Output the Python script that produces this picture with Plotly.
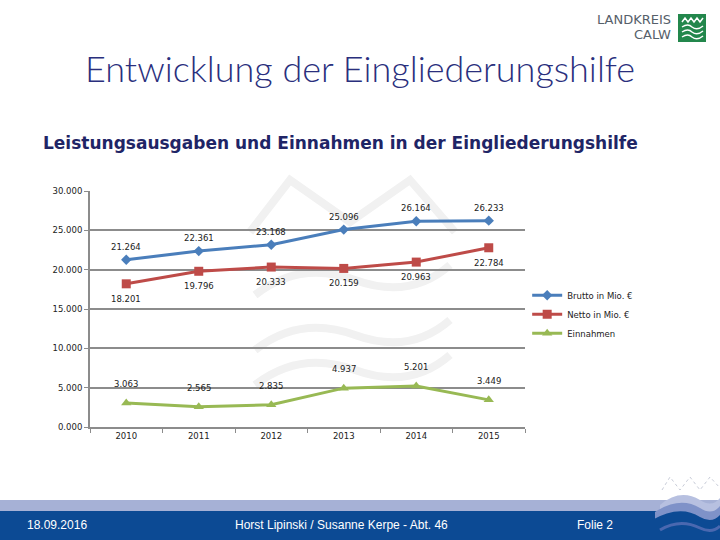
import plotly.graph_objects as go

years = ["2010", "2011", "2012", "2013", "2014", "2015"]
brutto = [21264, 22361, 23168, 25096, 26164, 26233]
netto = [18201, 19796, 20333, 20159, 20963, 22784]
einnahmen = [3063, 2565, 2835, 4937, 5201, 3449]
y_ticks = [0, 5000, 10000, 15000, 20000, 25000, 30000]

def de(v):
    return f"{v / 1000:.3f}"

W, H = 720, 540
L, R, T, B = 90, 525, 191, 427

fig = go.Figure()
series = [
    ("Brutto in Mio. €", brutto, "#4a7ebb", "diamond", 8, 13),
    ("Netto in Mio. €", netto, "#be4b48", "square", 9, -15),
    ("Einnahmen", einnahmen, "#98b954", "triangle-up", 9, 19),
]
annotations = []
for name, vals, col, sym, ms, shift in series:
    fig.add_trace(go.Scatter(
        x=years, y=vals, name=name, mode="lines+markers",
        line=dict(color=col, width=3),
        marker=dict(symbol=sym, size=ms, color=col),
    ))
    for i, v in enumerate(vals):
        annotations.append(dict(x=i, y=v, xref="x", yref="y", text=de(v),
                                showarrow=False, yshift=shift,
                                font=dict(family="DejaVu Sans", size=8.5, color="#222")))

def px(x):
    return (x - L) / (R - L)
def py(y):
    return (B - y) / (B - T)

FT = "Liberation Sans Narrow, Liberation Sans"
def txt(x, y, s, font, xa="center"):
    return dict(x=px(x), y=py(y), xref="paper", yref="paper", text=s, xanchor=xa,
                yanchor="middle", showarrow=False, font=font)

annotations += [
    txt(360, 68, "Entwicklung der Eingliederungshilfe", dict(family="Lato", size=36, color="#2a2f7d", weight=300)),
    txt(340, 143, "<b>Leistungsausgaben und Einnahmen in der Eingliederungshilfe</b>",
        dict(family="DejaVu Sans", size=17, color="#1f2566")),
    txt(25, 525, "18.09.2016", dict(family=FT, size=12, color="white"), "left"),
    txt(341, 525, "Horst Lipinski / Susanne Kerpe - Abt. 46", dict(family=FT, size=12, color="white")),
    txt(595, 525, "Folie 2", dict(family=FT, size=12, color="white")),
    txt(673, 20, "LANDKREIS", dict(family="DejaVu Sans", size=13, color="#56606a"), "right"),
    txt(673, 34, "CALW", dict(family="DejaVu Sans", size=13, color="#56606a"), "right"),
]

shapes = []
wm = "#f1f1f1"
shapes.append(dict(type="path", xref="paper", yref="paper", layer="below",
                   path=f"M {px(250)},{py(232)} L {px(290)},{py(180)} L {px(350)},{py(222)} L {px(410)},{py(180)} L {px(455)},{py(232)}",
                   line=dict(color=wm, width=8)))
for yy in (275, 330, 365):
    shapes.append(dict(type="path", xref="paper", yref="paper", layer="below",
                       path=f"M {px(255)},{py(yy+20)} Q {px(300)},{py(yy-15)} {px(355)},{py(yy+5)} Q {px(410)},{py(yy+25)} {px(450)},{py(yy-10)}",
                       line=dict(color=wm, width=8)))
shapes.append(dict(type="rect", xref="paper", yref="paper", x0=px(0), x1=px(720), y0=py(511), y1=py(500),
                   fillcolor="#a6b1d6", line=dict(width=0)))
shapes.append(dict(type="rect", xref="paper", yref="paper", x0=px(0), x1=px(720), y0=py(540), y1=py(511),
                   fillcolor="#0c4a94", line=dict(width=0)))
shapes.append(dict(type="path", xref="paper", yref="paper",
                   path=f"M {px(660)},{py(505)} Q {px(680)},{py(488)} {px(700)},{py(500)} Q {px(712)},{py(508)} {px(720)},{py(498)} L {px(720)},{py(540)} L {px(660)},{py(540)} Z",
                   fillcolor="#b7c0e0", line=dict(width=0)))
shapes.append(dict(type="path", xref="paper", yref="paper",
                   path=f"M {px(655)},{py(512)} Q {px(680)},{py(496)} {px(700)},{py(508)} Q {px(712)},{py(516)} {px(720)},{py(506)} L {px(720)},{py(540)} L {px(655)},{py(540)} Z",
                   fillcolor="#7f92c8", line=dict(width=0)))
shapes.append(dict(type="path", xref="paper", yref="paper",
                   path=f"M {px(652)},{py(520)} Q {px(680)},{py(504)} {px(700)},{py(517)} Q {px(712)},{py(524)} {px(720)},{py(515)} L {px(720)},{py(540)} L {px(652)},{py(540)} Z",
                   fillcolor="#0c4a94", line=dict(width=0)))
shapes.append(dict(type="path", xref="paper", yref="paper",
                   path=f"M {px(660)},{py(530)} Q {px(680)},{py(518)} {px(700)},{py(528)} Q {px(712)},{py(534)} {px(720)},{py(526)}",
                   line=dict(color="#4a68b0", width=3)))
shapes.append(dict(type="path", xref="paper", yref="paper",
                   path=f"M {px(662)},{py(490)} L {px(670)},{py(477)} L {px(680)},{py(490)} L {px(690)},{py(477)} L {px(700)},{py(490)} L {px(710)},{py(477)} L {px(720)},{py(488)}",
                   line=dict(color="#c8ccd8", width=1, dash="dot")))
shapes.append(dict(type="rect", xref="paper", yref="paper", x0=px(678), x1=px(706), y0=py(42), y1=py(14),
                   fillcolor="#23874c", line=dict(width=0)))
shapes.append(dict(type="path", xref="paper", yref="paper",
                   path=f"M {px(682)},{py(22)} L {px(685)},{py(18)} L {px(688)},{py(22)} L {px(691)},{py(18)} L {px(694)},{py(22)} L {px(697)},{py(18)} L {px(700)},{py(22)} L {px(703)},{py(18)}",
                   line=dict(color="white", width=1.5)))
for yy in (27, 32, 37):
    shapes.append(dict(type="path", xref="paper", yref="paper",
                       path=f"M {px(682)},{py(yy)} Q {px(688)},{py(yy-4)} {px(692)},{py(yy)} Q {px(697)},{py(yy+4)} {px(703)},{py(yy-1)}",
                       line=dict(color="white", width=1.5)))

fig.update_layout(
    width=W, height=H,
    margin=dict(l=L, r=W - R, t=T, b=H - B),
    paper_bgcolor="white", plot_bgcolor="rgba(0,0,0,0)",
    showlegend=True,
    legend=dict(x=1.005, y=0.62, xanchor="left", yanchor="top",
                font=dict(family="DejaVu Sans", size=8.5, color="#222"),
                bgcolor="rgba(0,0,0,0)", itemwidth=30, tracegroupgap=0),
    annotations=annotations,
    shapes=shapes,
    xaxis=dict(type="category", range=[-0.5, 5.5], showgrid=False, showline=True,
               linecolor="#8c8c8c", linewidth=2, ticks="outside", tickson="boundaries",
               ticklen=4, tickcolor="#8c8c8c", tickwidth=1,
               tickfont=dict(family="DejaVu Sans", size=8.5, color="#222"), fixedrange=True),
    yaxis=dict(range=[0, 30000], tickvals=y_ticks, ticktext=[de(v) for v in y_ticks],
               showgrid=True, gridcolor="#8c8c8c", gridwidth=2, zeroline=False,
               showline=True, linecolor="#8c8c8c", linewidth=2, ticks="outside", ticklen=4,
               tickcolor="#8c8c8c", tickfont=dict(family="DejaVu Sans", size=8.5, color="#222"),
               fixedrange=True),
)

fig.write_html("out.html", config={"displayModeBar": False},
               post_script="document.body.style.margin='0';")
